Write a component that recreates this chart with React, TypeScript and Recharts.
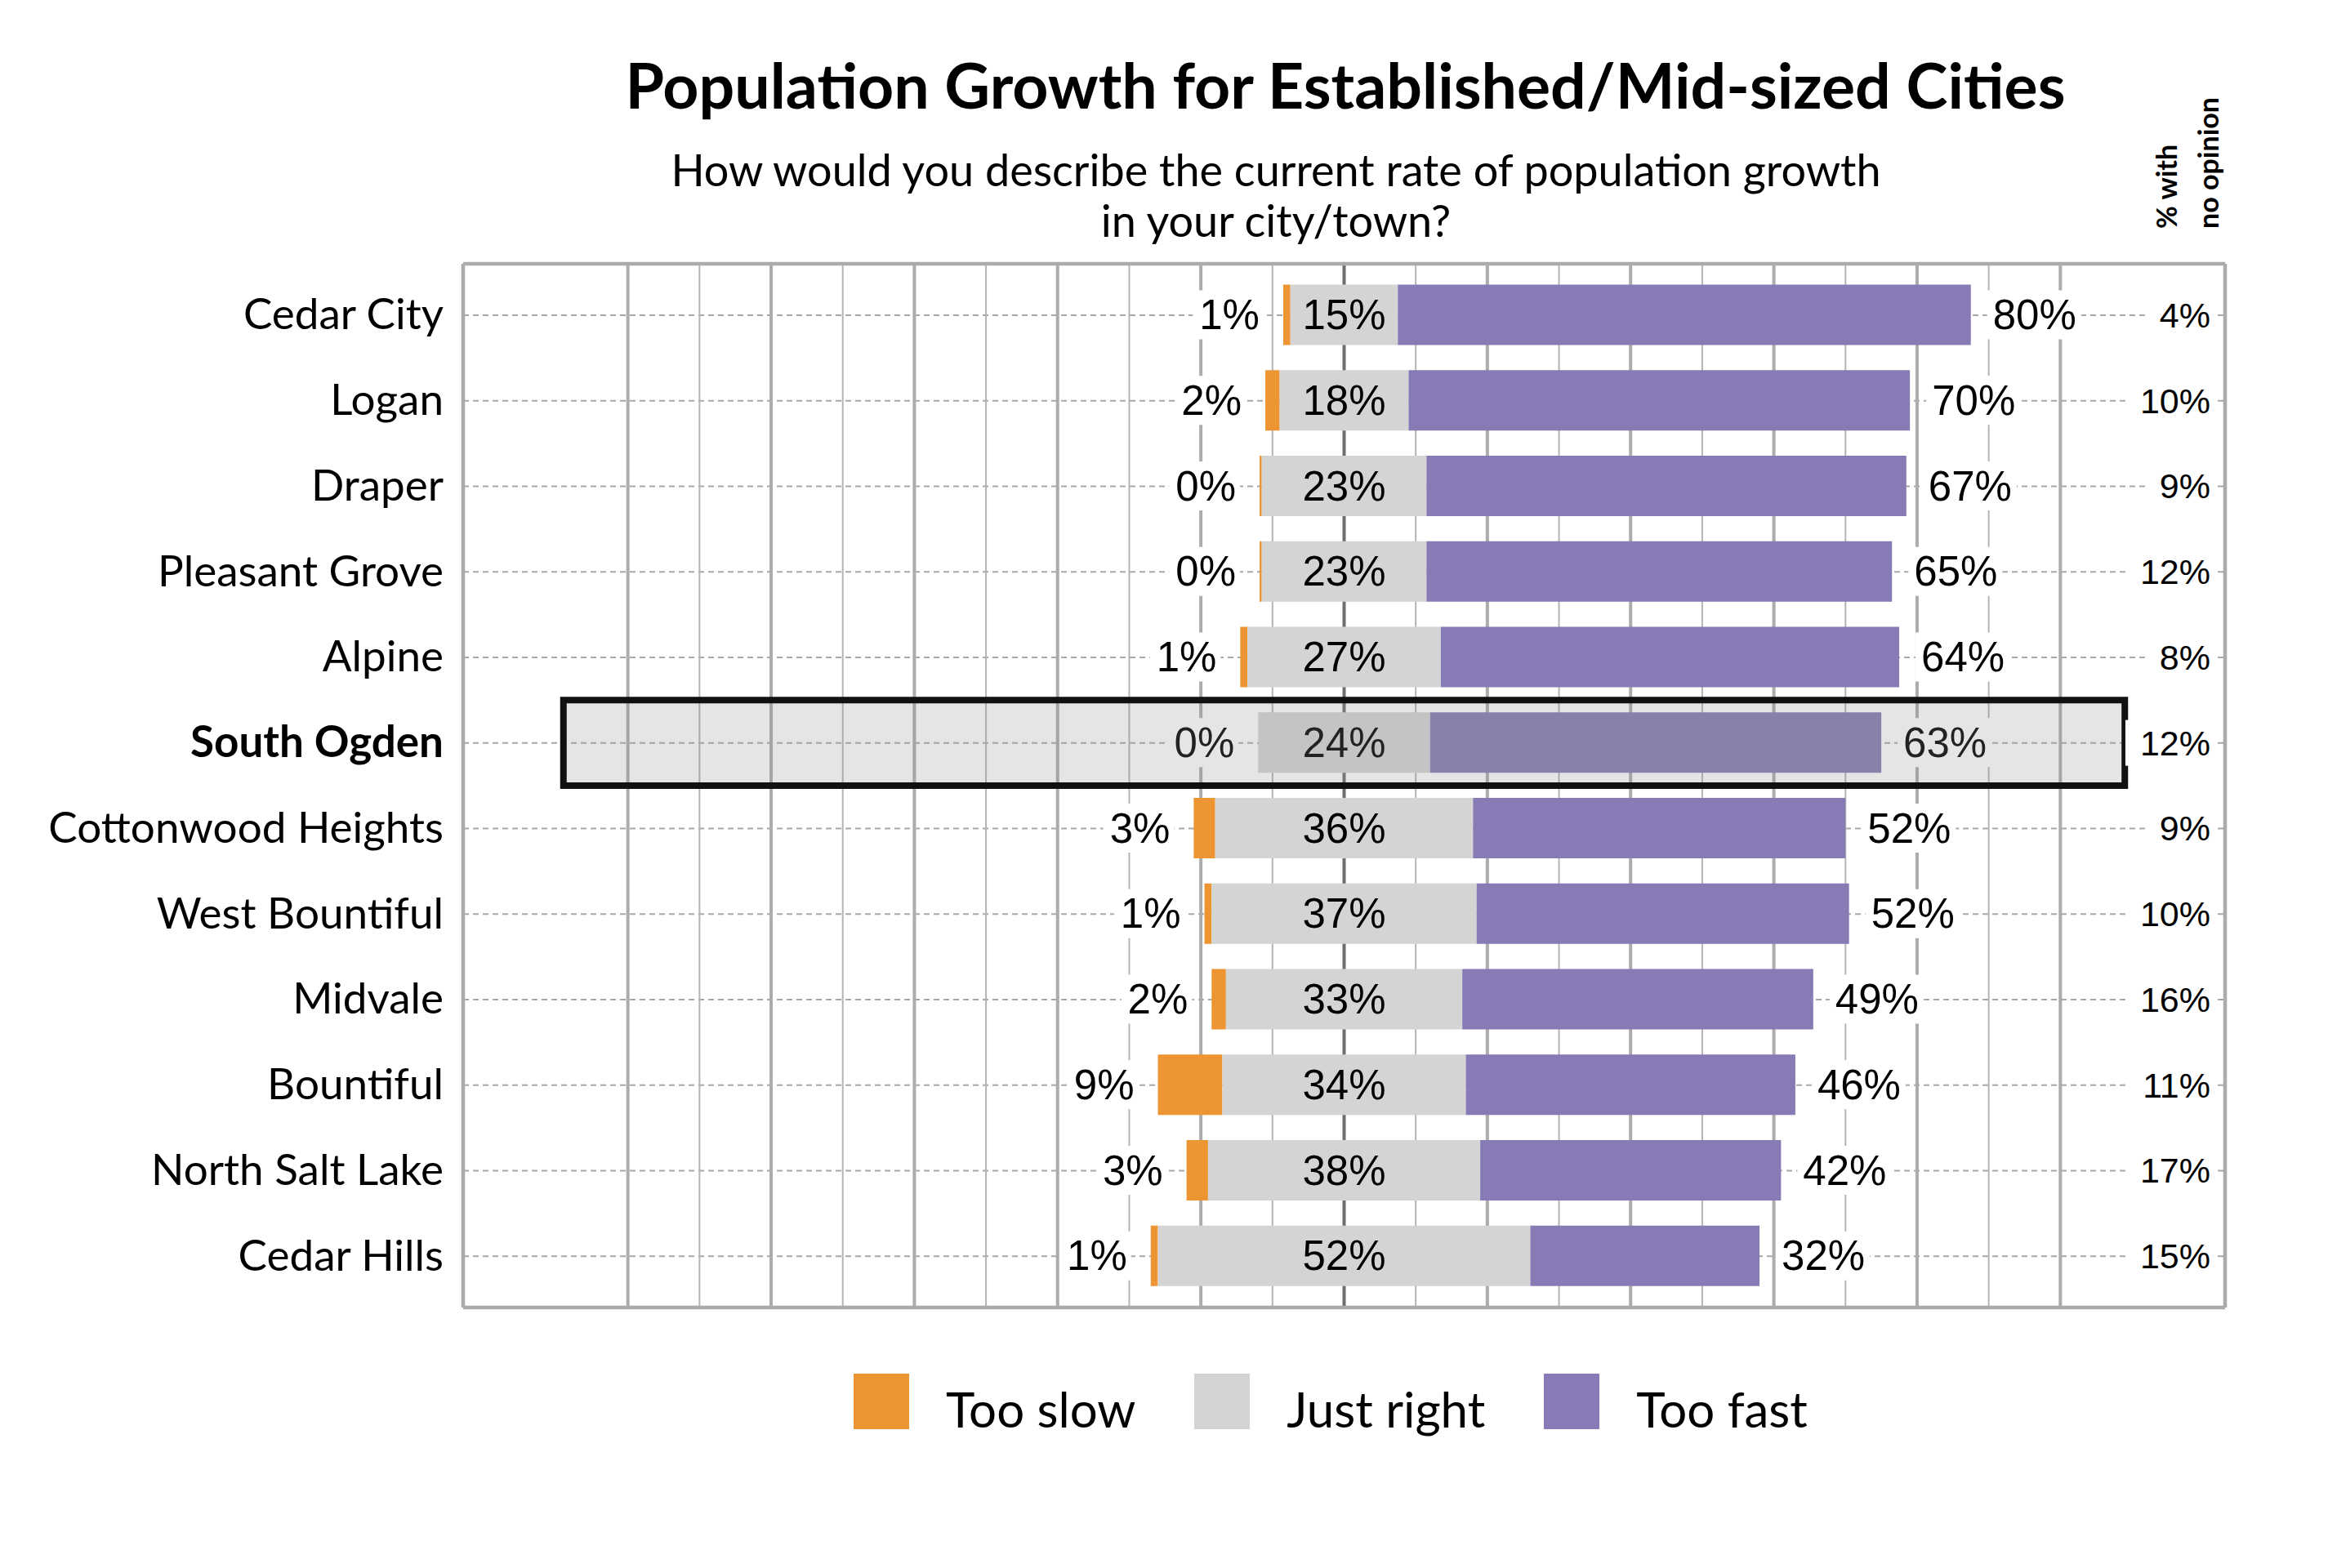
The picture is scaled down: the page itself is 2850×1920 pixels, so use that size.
import React from 'react';
import { ComposedChart, Bar, XAxis, YAxis, CartesianGrid, ReferenceArea, Legend } from 'recharts';

// ---------- data ----------
const cities = [
  'Cedar City',
  'Logan',
  'Draper',
  'Pleasant Grove',
  'Alpine',
  'South Ogden',
  'Cottonwood Heights',
  'West Bountiful',
  'Midvale',
  'Bountiful',
  'North Salt Lake',
  'Cedar Hills',
];
const tooSlow = [1, 2, 0.3, 0.3, 1, 0, 3, 1, 2, 9, 3, 1];
const justRight = [15, 18, 23, 23, 27, 24, 36, 37, 33, 34, 38, 52];
const tooFast = [80, 70, 67, 65, 64, 63, 52, 52, 49, 46, 42, 32];
const noOpinion = [4, 10, 9, 12, 8, 12, 9, 10, 16, 11, 17, 15];
const seriesNames = ['Too slow', 'Just right', 'Too fast'];
const highlightCity = 'South Ogden';
const xDomain: [number, number] = [-123, 123];
const highlightRange: [number, number] = [-109, 109];
const minorGridTicks = [-90, -70, -50, -30, -10, 10, 30, 50, 70, 90];
const majorGridTicks = [-100, -80, -60, -40, -20, 20, 40, 60, 80, 100];
const centerGridTicks = [0];

// ---------- style ----------
const ORANGE = '#ED9433';
const GRAY = '#D4D4D4';
const PURPLE = '#887BB5';
const VALUE_FONT = '"Liberation Sans", Arial, sans-serif';
const TEXT_FONT = 'Lato, "Open Sans", sans-serif';
const VALUE_SIZE = 51;
const NOOP_SIZE = 43;

const data = cities.map((city, i) => ({
  city,
  slow: tooSlow[i],
  right: justRight[i],
  fast: tooFast[i],
  none: noOpinion[i],
}));

const fmt = (v: number) => `${Math.round(v)}%`;
const textW = (s: string, size: number) => {
  let w = 0;
  for (const ch of s) w += ch === '%' ? 0.889 : 0.556;
  return w * size;
};

const slowKey = (d: any) => [-(d.right / 2 + d.slow), -d.right / 2];
const rightKey = (d: any) => [-d.right / 2, d.right / 2];
const fastKey = (d: any) => [d.right / 2, d.right / 2 + d.fast];

const SlowShape = (p: any) => {
  if (!p.width || p.width <= 0) return <g />;
  return <rect x={p.x} y={p.y} width={p.width} height={p.height} fill={ORANGE} />;
};

const JustRightShape = (p: any) => {
  const { x, y, width, height, payload } = p;
  const pxPer = payload.right ? width / payload.right : 0;
  const slowLeft = x - payload.slow * pxPer;
  const cy = y + height / 2;
  const slowText = fmt(payload.slow);
  const tw = textW(slowText, VALUE_SIZE);
  const tr = slowLeft - 29;
  return (
    <g>
      <rect x={x} y={y} width={width} height={height} fill={GRAY} />
      <rect x={tr - tw - 8} y={cy - 30} width={tw + 13} height={60} fill="#fff" />
      <text x={tr} y={cy} textAnchor="end" dominantBaseline="central" fontFamily={VALUE_FONT} fontSize={VALUE_SIZE} fill="#000">
        {slowText}
      </text>
      <text x={x + width / 2} y={cy} textAnchor="middle" dominantBaseline="central" fontFamily={VALUE_FONT} fontSize={VALUE_SIZE} fill="#000">
        {fmt(payload.right)}
      </text>
    </g>
  );
};

const FastShape = (p: any) => {
  const { x, y, width, height, payload } = p;
  const cy = y + height / 2;
  const t = fmt(payload.fast);
  const tw = textW(t, VALUE_SIZE);
  const tl = x + width + 27;
  return (
    <g>
      <rect x={x} y={y} width={width} height={height} fill={PURPLE} />
      <rect x={tl - 7} y={cy - 30} width={tw + 13} height={60} fill="#fff" />
      <text x={tl} y={cy} textAnchor="start" dominantBaseline="central" fontFamily={VALUE_FONT} fontSize={VALUE_SIZE} fill="#000">
        {t}
      </text>
    </g>
  );
};

const CityTick = (p: any) => {
  const { x, y, payload } = p;
  const bold = payload.value === highlightCity;
  return (
    <text x={x - 24} y={y - 3} textAnchor="end" dominantBaseline="central" fontFamily={TEXT_FONT} fontSize={53} fontWeight={bold ? 700 : 400} fill="#000">
      {payload.value}
    </text>
  );
};

const NoOpinionTick = (p: any) => {
  const { x, y, payload } = p;
  const idx = cities.indexOf(payload.value);
  const t = fmt(noOpinion[idx]);
  const tw = textW(t, NOOP_SIZE);
  const tr = x - 18;
  return (
    <g>
      <rect x={tr - tw - 18} y={y - 28} width={tw + 24} height={56} fill="#fff" />
      <text x={tr} y={y} textAnchor="end" dominantBaseline="central" fontFamily={VALUE_FONT} fontSize={NOOP_SIZE} fill="#000">
        {t}
      </text>
    </g>
  );
};

const renderLegend = (props: any) => {
  const payload = [...(props.payload || [])].sort(
    (a: any, b: any) => seriesNames.indexOf(a.value) - seriesNames.indexOf(b.value)
  );
  return (
    <div style={{ display: 'flex', alignItems: 'center', fontFamily: TEXT_FONT, fontSize: 60, color: '#000' }}>
      {payload.map((item: any, i: number) => (
        <div key={i} style={{ display: 'flex', alignItems: 'center', marginRight: i < payload.length - 1 ? 72 : 0 }}>
          <div style={{ width: 68, height: 68, background: item.color }} />
          <span style={{ marginLeft: 45, lineHeight: '68px', position: 'relative', top: 9, whiteSpace: 'nowrap' }}>{item.value}</span>
        </div>
      ))}
    </div>
  );
};

const frameRows = ({ offset }: any) => [offset.top, offset.top + offset.height];
const frameCols = ({ offset }: any) => [offset.left, offset.left + offset.width];

export default function App() {
  return (
    <div style={{ position: 'relative', width: 2834, height: 1900 }}>
      <ComposedChart
        width={2834}
        height={1900}
        data={data}
        layout="vertical"
        margin={{ top: 315, right: 108, bottom: 307, left: 39 }}
        barGap={-74}
        barSize={74}
      >
        <XAxis xAxisId="main" type="number" domain={xDomain} allowDataOverflow hide />
        <XAxis xAxisId="minor" type="number" domain={xDomain} ticks={minorGridTicks} interval={0} allowDataOverflow hide />
        <XAxis xAxisId="major" type="number" domain={xDomain} ticks={majorGridTicks} interval={0} allowDataOverflow hide />
        <XAxis xAxisId="center" type="number" domain={xDomain} ticks={centerGridTicks} interval={0} allowDataOverflow hide />
        <YAxis
          yAxisId="left"
          type="category"
          dataKey="city"
          width={520}
          axisLine={false}
          tickLine={false}
          tickSize={0}
          tickMargin={0}
          interval={0}
          padding={{ top: 10.5, bottom: 10.5 }}
          tick={<CityTick />}
        />
        <YAxis
          yAxisId="right"
          orientation="right"
          type="category"
          dataKey="city"
          width={10}
          axisLine={false}
          tickLine={false}
          tickSize={0}
          tickMargin={0}
          interval={0}
          padding={{ top: 10.5, bottom: 10.5 }}
          tick={<NoOpinionTick />}
        />

        <CartesianGrid xAxisId="main" yAxisId="left" vertical={false} stroke="#a8a8a8" strokeWidth={2} strokeDasharray="7 5" syncWithTicks />
        <CartesianGrid xAxisId="minor" yAxisId="left" horizontal={false} stroke="#b4b4b4" strokeWidth={2} syncWithTicks />
        <CartesianGrid xAxisId="major" yAxisId="left" horizontal={false} stroke="#acacac" strokeWidth={4} syncWithTicks />
        <CartesianGrid xAxisId="center" yAxisId="left" horizontal={false} stroke="#6e6e6e" strokeWidth={4} syncWithTicks />
        <CartesianGrid
          xAxisId="main"
          yAxisId="left"
          stroke="#ababab"
          strokeWidth={4.5}
          horizontalCoordinatesGenerator={frameRows}
          verticalCoordinatesGenerator={frameCols}
          syncWithTicks
        />

        <Bar xAxisId="main" yAxisId="left" name={seriesNames[0]} dataKey={slowKey} fill={ORANGE} shape={<SlowShape />} isAnimationActive={false} />
        <Bar xAxisId="main" yAxisId="left" name={seriesNames[1]} dataKey={rightKey} fill={GRAY} shape={<JustRightShape />} isAnimationActive={false} />
        <Bar xAxisId="main" yAxisId="left" name={seriesNames[2]} dataKey={fastKey} fill={PURPLE} shape={<FastShape />} isAnimationActive={false} />

        <Legend
          layout="horizontal"
          verticalAlign="middle"
          align="center"
          content={renderLegend}
          wrapperStyle={{ left: 1037, top: 1674, width: 'auto', height: 'auto' }}
        />

        <ReferenceArea
          xAxisId="main"
          yAxisId="left"
          x1={highlightRange[0]}
          x2={highlightRange[1]}
          y1={highlightCity}
          y2={highlightCity}
          fill="rgb(145,145,145)"
          fillOpacity={0.235}
          stroke="#111"
          strokeWidth={8}
          zIndex={1500}
        />
      </ComposedChart>

      <svg
        width={2834}
        height={320}
        style={{ position: 'absolute', left: 0, top: 0, pointerEvents: 'none' }}
      >
        <text x={1639} y={125} textAnchor="middle" fontFamily={TEXT_FONT} fontWeight={700} fontSize={77} fill="#000">
          Population Growth for Established/Mid-sized Cities
        </text>
        <text x={1554} y={220} textAnchor="middle" fontFamily={TEXT_FONT} fontSize={54} fill="#000">
          How would you describe the current rate of population growth
        </text>
        <text x={1554} y={282} textAnchor="middle" fontFamily={TEXT_FONT} fontSize={54} fill="#000">
          in your city/town?
        </text>
        <text transform="translate(2657, 272) rotate(-90)" fontFamily={TEXT_FONT} fontWeight={700} fontSize={34} fill="#000">
          % with
        </text>
        <text transform="translate(2708, 272) rotate(-90)" fontFamily={TEXT_FONT} fontWeight={700} fontSize={34} fill="#000">
          no opinion
        </text>
      </svg>
    </div>
  );
}
